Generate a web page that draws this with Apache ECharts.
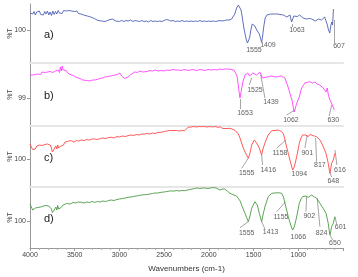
<!DOCTYPE html>
<html>
<head>
<meta charset="utf-8">
<script src="https://cdn.jsdelivr.net/npm/echarts@6/dist/echarts.min.js"></script>
<style>
  html, body { margin: 0; padding: 0; background: #fff; }
  #chart { width: 358px; height: 277px; }
</style>
</head>
<body>
<div id="chart"></div>
<script>
// spectra as [wavenumber, %T]
const specA = [[4000,101.7],[3985,101.9],[3970,101.6],[3955,101.85],[3940,101.5],[3925,101.8],[3910,101.6],[3895,101.9],[3880,101.55],[3865,101.75],[3850,101.5],[3835,101.85],[3820,101.6],[3805,101.9],[3790,101.5],[3775,101.8],[3760,101.45],[3745,101.9],[3730,101.55],[3715,101.85],[3700,101.6],[3685,101.95],[3670,101.7],[3655,101.9],[3640,101.65],[3625,101.95],[3610,101.75],[3595,101.9],[3580,101.7],[3565,101.95],[3550,101.75],[3535,101.9],[3520,101.7],[3505,101.85],[3490,101.75],[3475,101.9],[3460,101.65],[3445,101.8],[3430,101.6],[3415,101.75],[3400,101.5],[3380,101.55],[3360,101.4],[3340,101.45],[3320,101.3],[3300,101.35],[3280,101.15],[3260,101.0],[3240,100.95],[3220,101.05],[3200,100.9],[3180,100.95],[3160,100.85],[3140,100.95],[3120,101.0],[3100,100.9],[3080,101.1],[3060,101.0],[3040,100.9],[3020,100.95],[3000,100.85],[2975,100.95],[2950,100.85],[2925,100.95],[2900,100.9],[2875,101.0],[2850,100.85],[2825,100.95],[2800,100.9],[2775,100.85],[2750,100.95],[2725,100.85],[2700,100.9],[2675,100.8],[2650,100.95],[2625,100.85],[2600,100.9],[2575,100.85],[2550,100.9],[2525,100.85],[2500,100.95],[2475,101.05],[2450,101.0],[2425,100.9],[2400,100.95],[2375,100.85],[2350,100.9],[2325,100.85],[2300,100.95],[2275,100.85],[2250,100.9],[2225,100.85],[2200,100.9],[2175,100.85],[2150,100.9],[2125,100.85],[2100,100.95],[2075,100.85],[2050,100.9],[2025,100.85],[2000,100.9],[1975,100.85],[1950,100.9],[1925,100.85],[1900,100.9],[1875,100.95],[1850,100.9],[1825,100.95],[1800,101.0],[1775,101.0],[1750,101.05],[1730,101.2],[1710,101.6],[1690,102.2],[1670,102.5],[1655,102.55],[1640,102.0],[1625,101.2],[1610,100.3],[1595,99.6],[1580,99.0],[1568,98.7],[1555,98.65],[1545,99.2],[1530,100.0],[1515,100.6],[1500,100.7],[1485,100.4],[1465,100.0],[1450,99.8],[1435,99.6],[1420,99.1],[1410,98.8],[1400,99.3],[1385,100.4],[1370,101.2],[1350,101.5],[1330,101.5],[1310,101.6],[1290,101.55],[1270,101.6],[1250,101.5],[1230,101.6],[1205,101.55],[1185,101.65],[1165,101.5],[1150,101.6],[1130,101.3],[1110,101.5],[1093,101.5],[1075,100.8],[1063,100.6],[1050,101.4],[1030,101.5],[1010,101.35],[1000,101.3],[985,101.5],[965,101.35],[948,101.2],[930,101.3],[910,101.1],[892,101.0],[875,101.15],[851,101.1],[830,101.0],[810,100.9],[795,100.9],[775,101.1],[758,101.2],[740,101.0],[724,101.0],[705,101.3],[690,101.3],[675,100.5],[662,100.0],[648,99.7],[635,100.5],[625,100.8],[617,100.5],[610,101.5],[607,102.1]];

const specB = [[4000,101.3],[3985,101.45],[3970,101.3],[3955,101.5],[3940,101.35],[3925,101.55],[3910,101.4],[3895,101.5],[3880,101.35],[3865,101.6],[3850,101.4],[3835,101.55],[3820,101.45],[3805,101.6],[3790,101.4],[3775,101.65],[3760,101.45],[3745,101.55],[3730,101.35],[3715,101.7],[3700,101.5],[3685,101.8],[3670,101.55],[3660,102.1],[3650,101.7],[3640,102.2],[3630,101.8],[3620,102.0],[3610,101.6],[3595,101.75],[3580,101.5],[3560,101.5],[3538,101.3],[3515,101.25],[3490,101.1],[3463,101.0],[3440,100.95],[3410,100.8],[3388,100.7],[3360,100.75],[3330,100.7],[3300,100.8],[3277,100.8],[3250,100.85],[3220,100.95],[3190,101.0],[3165,101.1],[3130,101.15],[3100,101.2],[3075,101.25],[3053,101.3],[3020,101.35],[2997,101.5],[2975,101.2],[2955,101.0],[2941,100.95],[2920,101.1],[2904,101.1],[2880,101.3],[2860,101.45],[2830,101.6],[2800,101.55],[2770,101.7],[2740,101.6],[2718,101.7],[2690,101.65],[2660,101.75],[2630,101.7],[2600,101.8],[2570,101.7],[2532,101.75],[2500,101.7],[2470,101.8],[2440,101.75],[2400,101.85],[2370,101.8],[2345,101.8],[2310,101.75],[2280,101.85],[2250,101.8],[2220,101.75],[2190,101.85],[2159,101.8],[2130,101.75],[2100,101.85],[2070,101.8],[2040,101.75],[2010,101.85],[1973,101.8],[1940,101.85],[1910,101.8],[1880,101.9],[1850,101.85],[1820,101.9],[1786,101.9],[1750,101.85],[1720,101.8],[1700,101.7],[1685,101.2],[1671,100.3],[1660,99.5],[1652,99.0],[1640,99.6],[1620,100.6],[1596,101.3],[1566,101.5],[1545,101.2],[1533,101.0],[1510,101.5],[1496,101.6],[1466,101.3],[1445,101.4],[1430,101.6],[1420,101.5],[1400,101.0],[1380,101.2],[1350,101.1],[1300,101.2],[1260,101.1],[1220,101.15],[1190,101.2],[1170,101.3],[1150,101.0],[1130,100.8],[1110,100.0],[1085,99.2],[1070,98.8],[1055,98.0],[1045,97.6],[1035,97.8],[1020,98.4],[989,99.1],[963,100.0],[926,100.5],[889,100.6],[865,100.6],[840,100.5],[815,100.6],[790,100.4],[760,100.3],[740,100.2],[721,100.0],[700,99.8],[690,99.6],[676,100.0],[665,99.4],[654,99.0],[640,98.7],[627,98.5],[615,98.2],[605,98.4],[597,97.8]];

const specC = [[4000,101.5],[3985,101.2],[3970,100.95],[3955,101.1],[3940,101.0],[3925,101.3],[3910,101.15],[3895,101.4],[3880,101.2],[3865,101.35],[3850,101.25],[3835,101.45],[3820,101.3],[3805,101.5],[3790,101.35],[3775,101.4],[3760,101.1],[3750,100.7],[3740,100.6],[3730,101.0],[3720,100.8],[3710,101.3],[3700,101.0],[3690,101.4],[3680,101.1],[3668,101.0],[3655,101.3],[3640,101.5],[3625,101.4],[3612,101.67],[3590,101.6],[3565,101.8],[3538,101.83],[3510,101.7],[3480,101.85],[3455,101.8],[3426,101.9],[3395,101.85],[3365,101.95],[3335,101.9],[3305,102.0],[3277,102.0],[3245,101.95],[3215,102.05],[3185,102.1],[3155,102.05],[3120,102.15],[3091,102.17],[3060,102.1],[3030,102.25],[3000,102.2],[2965,102.3],[2935,102.25],[2904,102.33],[2870,102.4],[2840,102.35],[2810,102.45],[2780,102.4],[2750,102.5],[2718,102.5],[2690,102.55],[2660,102.5],[2630,102.6],[2600,102.55],[2570,102.65],[2532,102.67],[2500,102.75],[2470,102.8],[2440,102.85],[2420,102.9],[2390,102.85],[2360,102.85],[2330,102.8],[2300,102.85],[2270,102.83],[2250,103.0],[2233,103.17],[2200,103.2],[2170,103.25],[2140,103.2],[2110,103.25],[2085,103.23],[2050,103.25],[2020,103.2],[1990,103.25],[1960,103.2],[1930,103.25],[1898,103.17],[1870,103.2],[1845,103.05],[1823,103.0],[1795,103.05],[1764,103.07],[1730,102.95],[1705,102.85],[1689,102.73],[1670,102.5],[1652,102.1],[1615,101.1],[1590,100.6],[1559,100.07],[1540,100.6],[1521,101.4],[1492,101.9],[1466,101.6],[1436,101.1],[1410,100.4],[1395,101.0],[1373,101.6],[1336,102.4],[1298,102.83],[1260,102.85],[1224,102.9],[1186,102.73],[1165,102.5],[1149,101.9],[1130,101.2],[1112,100.57],[1085,99.6],[1063,98.9],[1045,99.2],[1026,99.9],[1005,100.8],[989,101.57],[970,102.1],[951,102.4],[930,102.45],[914,102.4],[901,102.2],[889,102.23],[870,102.45],[851,102.4],[820,102.3],[795,102.23],[775,102.1],[758,101.9],[740,101.6],[721,101.23],[705,100.9],[690,100.57],[678,100.1],[665,99.57],[655,99.0],[646,98.57],[636,99.1],[627,99.57],[618,99.7],[609,99.9],[600,100.2],[590,100.57]];

const specD = [[4000,101.7],[3985,101.4],[3970,101.1],[3955,101.0],[3940,101.3],[3925,101.5],[3910,101.35],[3895,101.55],[3880,101.4],[3865,101.6],[3850,101.5],[3835,101.65],[3820,101.55],[3805,101.7],[3790,101.5],[3775,101.55],[3760,101.2],[3750,100.85],[3740,100.75],[3730,101.1],[3720,100.9],[3710,101.4],[3700,101.1],[3690,101.55],[3680,101.2],[3665,101.4],[3650,101.37],[3630,101.6],[3610,101.5],[3590,101.75],[3575,101.77],[3550,101.7],[3520,101.85],[3490,101.8],[3460,101.9],[3426,101.87],[3395,101.8],[3365,101.9],[3335,101.85],[3305,101.95],[3277,101.87],[3245,101.95],[3215,101.9],[3185,102.0],[3155,101.95],[3120,102.05],[3091,102.1],[3060,102.05],[3030,102.15],[3000,102.2],[2965,102.25],[2935,102.3],[2904,102.37],[2870,102.4],[2840,102.45],[2810,102.5],[2780,102.55],[2750,102.6],[2718,102.63],[2690,102.65],[2660,102.7],[2630,102.75],[2600,102.8],[2570,102.8],[2532,102.87],[2500,102.9],[2470,102.95],[2440,103.0],[2420,103.03],[2390,103.0],[2360,103.05],[2330,103.0],[2300,103.05],[2270,103.03],[2240,103.1],[2210,103.15],[2196,103.2],[2160,103.25],[2130,103.3],[2100,103.25],[2070,103.3],[2047,103.3],[2010,103.25],[1980,103.3],[1950,103.35],[1920,103.3],[1898,103.3],[1876,103.1],[1850,103.2],[1823,103.2],[1795,103.0],[1764,102.77],[1720,102.6],[1690,102.5],[1671,102.43],[1650,102.0],[1634,101.6],[1596,100.77],[1575,100.3],[1559,99.93],[1540,100.5],[1521,101.27],[1485,101.93],[1458,101.6],[1436,100.77],[1410,99.93],[1395,100.6],[1373,101.43],[1336,102.43],[1298,102.77],[1260,102.8],[1224,102.83],[1186,102.77],[1165,102.4],[1149,101.77],[1130,101.1],[1112,100.43],[1085,99.6],[1063,99.1],[1045,99.4],[1026,100.1],[1005,101.0],[989,101.77],[970,102.2],[951,102.43],[930,102.5],[914,102.5],[902,102.3],[889,102.37],[870,102.55],[851,102.6],[820,102.4],[795,102.27],[775,102.0],[758,101.77],[740,101.5],[721,101.27],[705,101.0],[690,100.77],[678,100.3],[665,99.77],[655,99.1],[646,98.6],[636,99.0],[627,99.43],[618,99.6],[609,99.77],[600,100.1],[590,100.43]];

// peak labels: [text, wavenumber, %T] (label centre)
const peaksA = [['1555',1496,98.0],['1409',1339,98.5],['1063',1015,100.0],['607',545,98.4]];
const peaksB = [['1653',1596,97.47],['1525',1485,99.8],['1439',1306,98.57],['1062',1082,96.8],['630',609,96.8]];
const peaksC = [['1555',1577,98.57],['1416',1336,98.9],['1158',1205,100.57],['1094',989,98.47],['901',900,100.57],['817',758,99.4],['648',609,97.8],['616',534,98.9]];
const peaksD = [['1555',1577,98.83],['1413',1309,98.93],['1155',1194,100.43],['1066',1000,98.37],['902',877,100.5],['824',739,98.83],['650',590,97.77],['601',526,99.37]];

// leader lines from band to label: [[wn, %T], [wn, %T]]
const leadersA = [[[1063,100.6],[1063,100.3]],[[600,101.0],[600,98.7]]];
const leadersB = [[[1652,98.9],[1652,97.9]],[[1521,101.0],[1548,100.3]],[[1420,101.3],[1373,99.0]],[[1037,97.8],[1130,97.3]],[[627,98.3],[654,97.2]]];
const leadersC = [[[1559,100.07],[1633,99.07]],[[1410,100.4],[1399,99.4]],[[1141,101.9],[1242,101.07]],[[900,102.4],[926,101.1]],[[806,102.1],[795,99.73]],[[646,98.6],[627,98.2]],[[590,100.9],[568,99.4]]];
const leadersD = [[[1559,99.93],[1652,99.33]],[[1410,99.93],[1373,99.2]],[[1141,101.93],[1242,100.93]],[[907,102.43],[914,100.93]],[[788,102.27],[758,99.43]],[[646,98.6],[616,98.1]],[[590,100.43],[571,99.7]]];

const tags = ['a)', 'b)', 'c)', 'd)'];
const tickValues = [100, 99, 100, 100];

const FONT = 'Liberation Sans Narrow, Liberation Sans, Arial, sans-serif';

const panels = [
  { spec: specA, peaks: peaksA, leaders: leadersA, color: '#5060b4', top: 4, height: 59, ymin: 96.7, ymax: 102.6 },
  { spec: specB, peaks: peaksB, leaders: leadersB, color: '#ff40ff', top: 63, height: 63, ymin: 96.2, ymax: 102.5 },
  { spec: specC, peaks: peaksC, leaders: leadersC, color: '#ff4848', top: 126, height: 61, ymin: 97.2, ymax: 103.3 },
  { spec: specD, peaks: peaksD, leaders: leadersD, color: '#4c9a44', top: 187, height: 61, ymin: 97.3, ymax: 103.4 }
];

const last = panels.length - 1;
const chart = echarts.init(document.getElementById('chart'));

const option = {
  animation: false,
  textStyle: { fontFamily: FONT },
  grid: panels.map(p => ({
    left: 30, right: 15, top: p.top, height: p.height,
    containLabel: false, outerBoundsMode: 'none'
  })),
  xAxis: panels.map((p, i) => ({
    gridIndex: i,
    type: 'value',
    min: 500,
    max: 4000,
    interval: 500,
    inverse: true,
    name: i === last ? 'Wavenumbers (cm-1)' : '',
    nameLocation: 'middle',
    nameGap: 17,
    nameMoveOverlap: false,
    nameTextStyle: { fontSize: 8, color: '#333', fontFamily: FONT },
    axisLine: {
      show: true,
      lineStyle: i === last ? { color: '#999', width: 1 } : { color: '#e6e6e6', width: 2 }
    },
    axisTick: { show: i === last, length: 3, lineStyle: { color: '#999' } },
    minorTick: { show: i === last, splitNumber: 5, length: 2, lineStyle: { color: '#aaa' } },
    axisLabel: {
      show: i === last,
      fontSize: 7,
      color: '#444',
      margin: 4,
      fontFamily: FONT,
      formatter: v => (v === 500 ? '' : String(v))
    },
    splitLine: { show: false }
  })),
  yAxis: panels.map((p, i) => ({
    gridIndex: i,
    type: 'value',
    min: p.ymin,
    max: p.ymax,
    name: '%T',
    nameLocation: 'middle',
    nameGap: 16,
    nameMoveOverlap: false,
    nameRotate: 90,
    nameTextStyle: { fontSize: 7, color: '#444', fontFamily: FONT },
    axisLine: { show: true, lineStyle: { color: '#999', width: 1 } },
    axisTick: { show: true, length: 3, customValues: [tickValues[i]], lineStyle: { color: '#999' } },
    axisLabel: { show: true, fontSize: 7, color: '#444', margin: 4, fontFamily: FONT, customValues: [tickValues[i]] },
    splitLine: { show: false }
  })),
  graphic: panels.map((p, i) => ({
    type: 'text',
    left: 44,
    top: p.top + p.height / 2 - 4,
    style: { text: tags[i], fontSize: 11, fill: '#222', fontFamily: 'Liberation Sans, Arial, sans-serif' }
  })),
  series: []
};

panels.forEach((p, i) => {
  option.series.push({
    type: 'line',
    xAxisIndex: i,
    yAxisIndex: i,
    data: p.spec,
    symbol: 'none',
    lineStyle: { color: p.color, width: 0.9 },
    markLine: {
      silent: true,
      symbol: 'none',
      label: { show: false },
      lineStyle: { color: '#666', width: 0.6, type: 'solid' },
      data: p.leaders.map(l => [{ coord: l[0] }, { coord: l[1] }])
    }
  });
  option.series.push({
    type: 'scatter',
    xAxisIndex: i,
    yAxisIndex: i,
    symbolSize: 1,
    itemStyle: { color: 'rgba(0,0,0,0)' },
    data: p.peaks.map(k => ({ name: k[0], value: [k[1], k[2]] })),
    label: {
      show: true,
      position: 'inside',
      formatter: '{b}',
      fontSize: 7,
      color: '#333',
      fontFamily: FONT
    }
  });
});

chart.setOption(option);
</script>
</body>
</html>
